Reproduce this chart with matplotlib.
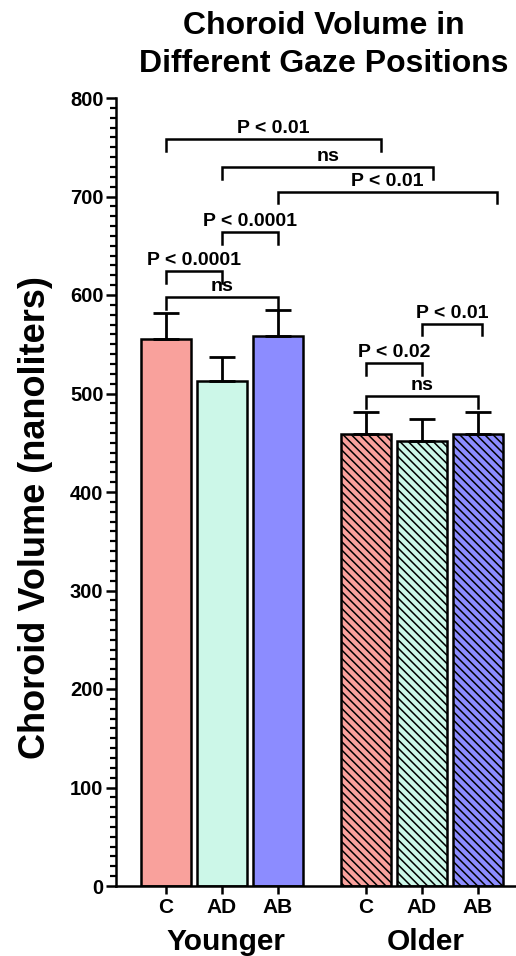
import numpy as np
import matplotlib
matplotlib.use('Agg')
import matplotlib.pyplot as plt

# data
groups = ['Younger', 'Older']
conditions = ['C', 'AD', 'AB']
means = [555, 513, 558, 459, 452, 459]
sd = [27, 24, 27, 22, 22, 22]

# comparisons: bar index pairs, bracket height and label
pairs = [(0, 3), (1, 4), (2, 5), (1, 2), (0, 1), (0, 2), (4, 5), (3, 4), (3, 5)]
bracket_y = [758, 730, 705, 664, 624, 598, 571, 531, 497]
p_labels = ['P < 0.01', 'ns', 'P < 0.01', 'P < 0.0001', 'P < 0.0001', 'ns',
            'P < 0.01', 'P < 0.02', 'ns']

plt.rcParams['font.family'] = ['Liberation Sans', 'DejaVu Sans']
plt.rcParams['font.weight'] = 'bold'
plt.rcParams['hatch.linewidth'] = 1.1
plt.rcParams['hatch.color'] = 'black'

colors = ['#F9A19C', '#CCF7E8', '#8C8CFF']
# right-end nudge of the brackets as drawn in the original
end_nudge = [0.27, 0.2, 0.34, 0, 0, 0, 0.07, 0, 0]


def draw_bracket(ax, x1, x2, y, label, tip=12):
    ax.plot([x1, x1, x2, x2], [y - tip, y, y, y - tip], color='black',
            linewidth=1.8, solid_joinstyle='miter', clip_on=False)
    ax.text((x1 + x2) / 2, y + 2, label, ha='center', va='bottom',
            fontsize=14, fontweight='bold')


fig = plt.figure(figsize=(5.16, 9.56), dpi=100)
ax = fig.add_axes([116 / 516, 70 / 956, 400 / 516, 788 / 956])

# bar positions: three per group, wider gap between groups
x = np.array([0, 1, 2, 3.571, 4.571, 5.571])
width = 0.893

for i in range(len(means)):
    hatched = i >= 3
    ax.bar(x[i], means[i], width=width, color=colors[i % 3],
           edgecolor='black', linewidth=1.8,
           hatch='\\\\\\\\' if hatched else None, zorder=2)

ax.errorbar(x, means, yerr=[np.zeros(len(sd)), sd], fmt='none',
            ecolor='black', elinewidth=2.0, capsize=9.4, capthick=2.0, zorder=3)

for (i, j), y, lab, dx in zip(pairs, bracket_y, p_labels, end_nudge):
    draw_bracket(ax, x[i], x[j] + dx, y, lab)

# axes
ax.set_xlim(-0.893, 6.25)
ax.set_ylim(0, 800)
ax.spines['top'].set_visible(False)
ax.spines['right'].set_visible(False)
ax.spines['left'].set_linewidth(1.8)
ax.spines['bottom'].set_linewidth(1.8)

ax.set_yticks(np.arange(0, 801, 100))
ax.set_yticks(np.arange(0, 801, 10), minor=True)
ax.tick_params(axis='y', which='major', length=7.5, width=1.8, labelsize=14.5, pad=1.5)
ax.tick_params(axis='y', which='minor', length=4, width=1.6)

ax.set_xticks(x)
ax.set_xticklabels(conditions * 2)
ax.tick_params(axis='x', length=6, width=1.8, labelsize=15, pad=2.5)
for lbl in ax.get_xticklabels() + ax.get_yticklabels():
    lbl.set_fontweight('bold')

ax.set_ylabel('Choroid Volume (nanoliters)', fontsize=26, fontweight='bold', va='center')
ax.yaxis.set_label_coords(-0.2, 0.468)

# group labels under the ticks
for k, g in enumerate(groups):
    ax.text(x[3 * k + 1] + 0.07, -0.081, g, transform=ax.get_xaxis_transform(),
            ha='center', va='baseline', fontsize=21.5, fontweight='bold')

# title (two lines)
fig.text(324 / 516, 1 - 34 / 956, 'Choroid Volume in', ha='center', va='baseline',
         fontsize=23, fontweight='bold')
fig.text(324 / 516, 1 - 72 / 956, 'Different Gaze Positions', ha='center', va='baseline',
         fontsize=23, fontweight='bold')

plt.savefig('out.png', dpi=100)
plt.close()
